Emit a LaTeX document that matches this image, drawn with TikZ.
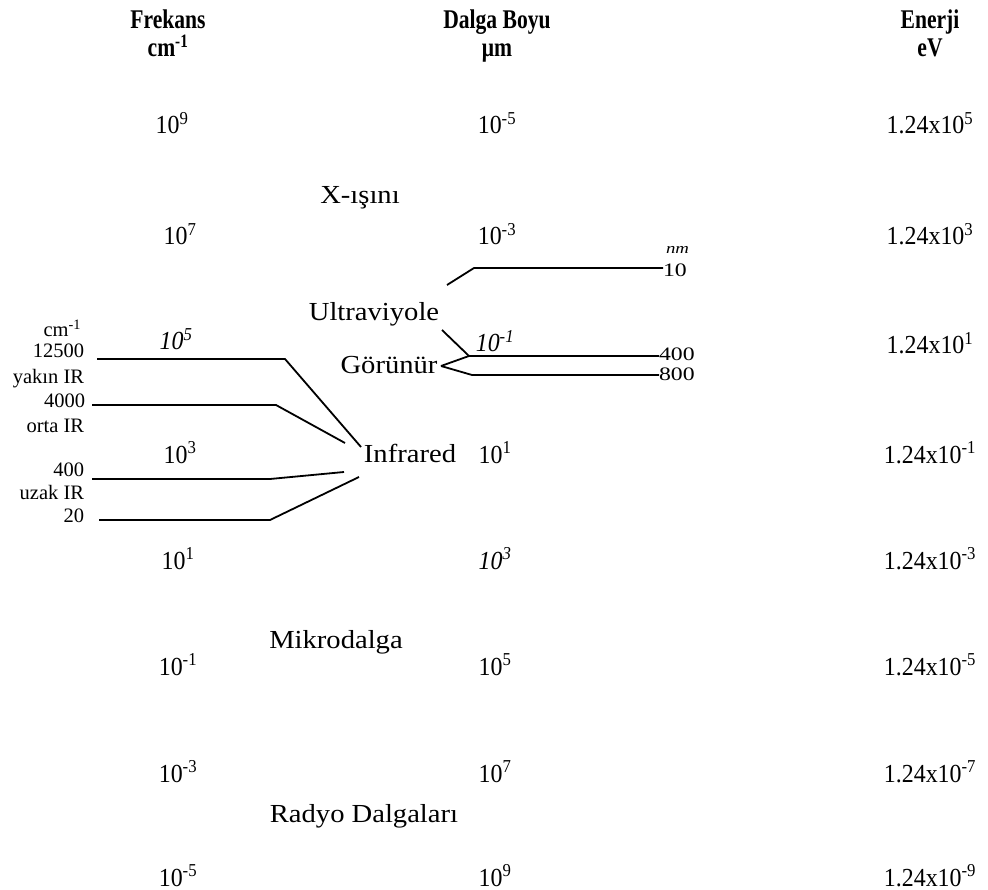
\documentclass[tikz,border=0pt]{standalone}
\usepackage{fontspec}
\setmainfont{Liberation Serif}
\newfontfamily\hdfont[FakeStretch=0.8]{Liberation Serif}
\newfontfamily\valfont[FakeStretch=0.92]{Liberation Serif}
\newfontfamily\bandfont[FakeStretch=1.1]{Liberation Serif}
\newfontfamily\nmfont[FakeStretch=1.25]{Liberation Serif}

\begin{document}
\begin{tikzpicture}[x=1pt,y=-1pt,
  every node/.style={inner sep=0pt, outer sep=0pt, anchor=base},
  head/.style={font=\hdfont\bfseries\fontsize{27}{30}\selectfont},
  val/.style={font=\valfont\fontsize{26}{30}\selectfont},
  ival/.style={font=\valfont\itshape\fontsize{26}{30}\selectfont},
  band/.style={font=\bandfont\fontsize{26}{30}\selectfont},
  small/.style={font=\fontsize{20.5}{24}\selectfont, anchor=base east},
  nmlab/.style={font=\nmfont\fontsize{19}{22}\selectfont, anchor=west},
  conn/.style={line width=1.8pt, line join=round}]
\useasboundingbox (0,0) rectangle (988,890);

% column headers
\node[head] (hf)  at (168,29) {Frekans};
\node[head] (hfu) at (168,57) {cm\textsuperscript{-1}};
\node[head] (hd)  at (497,29) {Dalga Boyu};
\node[head] (hdu) at (497,57) {μm};
\node[head] (he)  at (930,29) {Enerji};
\node[head] (heu) at (930,57) {eV};

% wavenumber column
\node[val]  (f1) at (172,134) {10\textsuperscript{9}};
\node[val]  (f2) at (180,245) {10\textsuperscript{7}};
\node[ival] (f3) at (176,350) {10\textsuperscript{5}};
\node[val]  (f4) at (180,463) {10\textsuperscript{3}};
\node[val]  (f5) at (178,569) {10\textsuperscript{1}};
\node[val]  (f6) at (178,675) {10\textsuperscript{-1}};
\node[val]  (f7) at (178,782) {10\textsuperscript{-3}};
\node[val]  (f8) at (178,886) {10\textsuperscript{-5}};

% wavelength column
\node[val]  (w1) at (497,134) {10\textsuperscript{-5}};
\node[val]  (w2) at (497,245) {10\textsuperscript{-3}};
\node[ival] (w3) at (495,352) {10\textsuperscript{-1}};
\node[val]  (w4) at (495,463) {10\textsuperscript{1}};
\node[ival] (w5) at (495,569) {10\textsuperscript{3}};
\node[val]  (w6) at (495,675) {10\textsuperscript{5}};
\node[val]  (w7) at (495,782) {10\textsuperscript{7}};
\node[val]  (w8) at (495,886) {10\textsuperscript{9}};

% energy column
\node[val] (e1) at (930,134) {1.24x10\textsuperscript{5}};
\node[val] (e2) at (930,245) {1.24x10\textsuperscript{3}};
\node[val] (e3) at (930,354) {1.24x10\textsuperscript{1}};
\node[val] (e4) at (930,463) {1.24x10\textsuperscript{-1}};
\node[val] (e5) at (930,569) {1.24x10\textsuperscript{-3}};
\node[val] (e6) at (930,675) {1.24x10\textsuperscript{-5}};
\node[val] (e7) at (930,782) {1.24x10\textsuperscript{-7}};
\node[val] (e8) at (930,886) {1.24x10\textsuperscript{-9}};

% spectral regions
\node[band] (xr)  at (360,204) {X-ışını};
\node[band] (uv)  at (374,321) {Ultraviyole};
\node[band] (vis) at (389,374) {Görünür};
\node[band] (ir)  at (410,462) {Infrared};
\node[band] (mw)  at (336,648) {Mikrodalga};
\node[band] (rd)  at (364,822) {Radyo Dalgaları};

% infrared sub-ranges (cm^-1)
\node[small] (lcm)    at (81,337) {cm\textsuperscript{-1}};
\node[small] (l12500) at (84,358) {12500};
\node[small] (lnear)  at (84,384) {yakın IR};
\node[small] (l4000)  at (85,408) {4000};
\node[small] (lmid)   at (84,432) {orta IR};
\node[small] (l400)   at (84,476) {400};
\node[small] (lfar)   at (84,499) {uzak IR};
\node[small] (l20)    at (84,522) {20};

\coordinate (b1) at (285,359);
\coordinate (b2) at (276,405);
\coordinate (b3) at (270,479);
\coordinate (b4) at (270,520);
\coordinate (i1) at (361,447);
\coordinate (i2) at (345,443);
\coordinate (i3) at (344,472);
\coordinate (i4) at (359,477);

\draw[conn] ([xshift=13pt]l12500.base east |- b1) -- (b1) -- (i1);
\draw[conn] ([xshift=7pt]l4000.base east |- b2) -- (b2) -- (i2);
\draw[conn] ([xshift=8pt]l400.base east |- b3) -- (b3) -- (i3);
\draw[conn] ([xshift=15pt]l20.base east |- b4) -- (b4) -- (i4);

% ultraviolet / visible limits (nm)
\node[nmlab, font=\nmfont\itshape\fontsize{15}{18}\selectfont] (lnm) at (666,250) {nm};
\node[nmlab] (l10)   at (663,270) {10};
\node[nmlab] (l400n) at (659,354) {400};
\node[nmlab] (l800n) at (659,374) {800};

\coordinate (u1) at (447,285);
\coordinate (u2) at (474,268);
\coordinate (v0) at (442,330);
\coordinate (v1) at (469,356);
\coordinate (v2) at (472,375);
\coordinate (g0) at (441,366);

\draw[conn] (u1) -- (u2) -- (l10.west |- u2);
\draw[conn] (v0) -- (v1) -- (l400n.west |- v1);
\draw[conn] (g0) -- (v1);
\draw[conn] (g0) -- (v2) -- (l800n.west |- v2);
\end{tikzpicture}
\end{document}
